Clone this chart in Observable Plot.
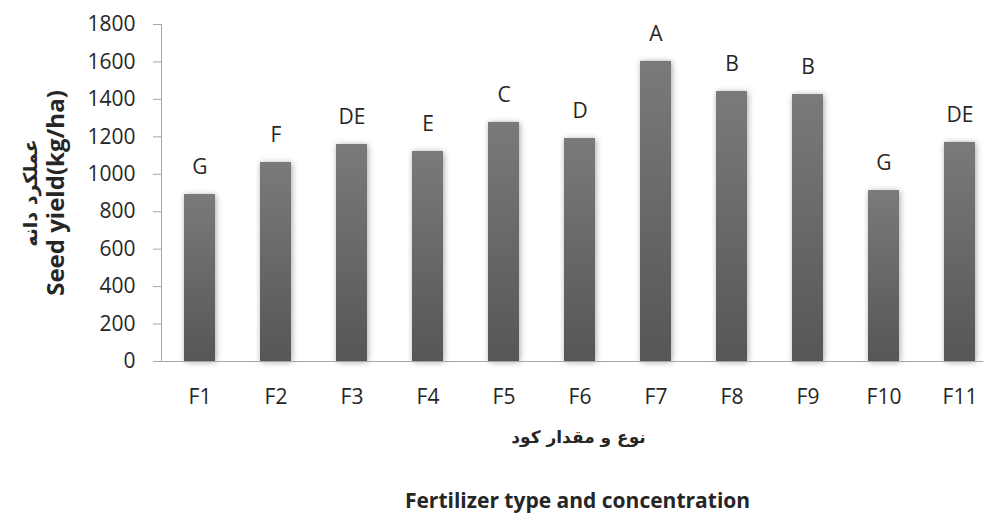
<!DOCTYPE html>
<html><head><meta charset="utf-8">
<script src="https://cdn.jsdelivr.net/npm/d3@7"></script>
<script src="https://cdn.jsdelivr.net/npm/@observablehq/plot@0.6"></script>
<style>html,body{margin:0;padding:0;background:#fff;overflow:hidden}</style>
</head><body><div id="chart"></div>
<script>
const categories = ["F1","F2","F3","F4","F5","F6","F7","F8","F9","F10","F11"];
const yields = [892, 1063, 1159, 1122, 1277, 1191, 1603, 1442, 1426, 913, 1170];
const letters = ["G","F","DE","E","C","D","A","B","B","G","DE"];
const yTicks = [0, 200, 400, 600, 800, 1000, 1200, 1400, 1600, 1800];
const yLabelFa = "عملکرد دانه";
const yLabelEn = "Seed yield(kg/ha)";
const xLabelFa = "نوع و مقدار کود";
const xLabelEn = "Fertilizer type and concentration";

const data = categories.map((c, i) => ({cat: c, value: yields[i], letter: letters[i]}));
const font = "'Open Sans', sans-serif";
const faFont = "'DejaVu Sans', sans-serif";
const axisGrey = "#a6a6a6";
const textCol = "#262626";

const plot = Plot.plot({
  width: 983, height: 516,
  marginTop: 24, marginBottom: 155, marginLeft: 161, marginRight: 0,
  style: {fontFamily: font, background: "#fff", color: textCol},
  x: {domain: categories, range: [161, 998], paddingInner: 0.59, paddingOuter: 0.295, axis: null},
  y: {domain: [0, 1800], axis: null},
  marks: [
    Plot.barY(data, {x: "cat", y: "value", fill: "url(#barGrad)"}),
    Plot.ruleY([0], {stroke: axisGrey}),
    Plot.frame({anchor: "left", stroke: axisGrey}),
    Plot.axisY({ticks: yTicks, tickFormat: d => String(d), tickSize: 8, tickPadding: 18, stroke: axisGrey, fill: textCol, fontSize: 21, label: null}),
    Plot.axisX({tickSize: 0, tickPadding: 28, fill: textCol, fontSize: 21, label: null}),
    Plot.text(data, {x: "cat", y: "value", text: "letter", dy: -27, fontSize: 21, fill: textCol}),
    Plot.text([yLabelEn], {frameAnchor: "left", textAnchor: "middle", lineAnchor: "middle", rotate: -90, dx: -105, dy: 0, fontWeight: "bold", fontSize: 24, fill: textCol}),
    Plot.text([yLabelFa], {frameAnchor: "left", textAnchor: "middle", lineAnchor: "middle", rotate: -90, dx: -131, dy: 0, fontWeight: "bold", fontSize: 19, fontFamily: faFont, fill: textCol}),
    Plot.text([xLabelFa], {frameAnchor: "bottom", textAnchor: "middle", lineAnchor: "middle", dx: 6, dy: 76, fontWeight: "bold", fontSize: 17, fontFamily: faFont, fill: textCol}),
    Plot.text([xLabelEn], {frameAnchor: "bottom", textAnchor: "middle", lineAnchor: "middle", dx: 5, dy: 140, fontWeight: "bold", fontSize: 21, fill: textCol})
  ]
});

const svg = d3.select(plot);
const defs = svg.insert("defs", ":first-child");
const grad = defs.append("linearGradient").attr("id", "barGrad")
  .attr("x1", 0).attr("y1", 0).attr("x2", 0).attr("y2", 1);
grad.append("stop").attr("offset", "0%").attr("stop-color", "#7a7a7a");
grad.append("stop").attr("offset", "100%").attr("stop-color", "#565656");
svg.selectAll("g[aria-label='bar'] rect").style("filter", "drop-shadow(1px 1px 3px rgba(0,0,0,0.35))");

document.getElementById("chart").appendChild(plot);
</script>
</body></html>
